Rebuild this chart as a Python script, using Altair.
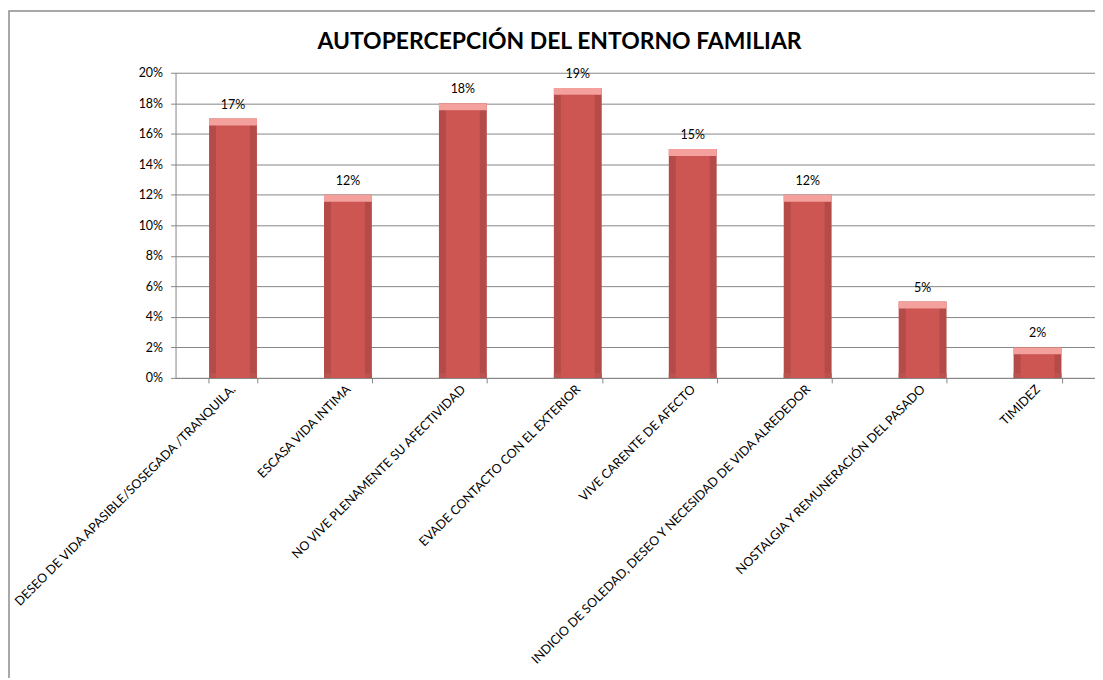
import altair as alt
import pandas as pd

categories = [
    "DESEO DE VIDA APASIBLE/SOSEGADA /TRANQUILA.",
    "ESCASA VIDA INTIMA",
    "NO VIVE PLENAMENTE SU AFECTIVIDAD",
    "EVADE CONTACTO CON EL EXTERIOR",
    "VIVE CARENTE DE AFECTO",
    "INDICIO DE SOLEDAD, DESEO Y NECESIDAD DE VIDA ALREDEDOR",
    "NOSTALGIA Y REMUNERACIÓN DEL PASADO",
    "TIMIDEZ",
]
values = [0.17, 0.12, 0.18, 0.19, 0.15, 0.12, 0.05, 0.02]
y_ticks = [0.0, 0.02, 0.04, 0.06, 0.08, 0.10, 0.12, 0.14, 0.16, 0.18, 0.20]
title_text = ["AUTOPERCEPCIÓN DEL ENTORNO FAMILIAR"]

df = pd.DataFrame({"cat": categories, "val": values})

FONT = "Lato"
W, H = 922, 306

x = alt.X("cat:N", sort=categories, title=None,
          scale=alt.Scale(paddingInner=0.58, paddingOuter=0.29),
          axis=alt.Axis(labelAngle=-45, labelAlign="right", labelBaseline="middle",
                        labelFont=FONT, labelFontSize=12.6, labelColor="#000000",
                        labelPadding=4, labelLimit=500, labelOverlap=False,
                        domainColor="#868686", tickColor="#868686", tickSize=5,
                        tickBand="extent", grid=False))
yaxis = alt.Axis(format=".0%", values=y_ticks,
                 labelFont=FONT, labelFontSize=12.5, labelColor="#000000",
                 labelOverlap=False, labelPadding=8,
                 domainColor="#868686", tickColor="#868686",
                 tickSize=5, gridColor="#868686", gridWidth=1)
yscale = alt.Scale(domain=[0, 0.2], nice=False)
y = alt.Y("val:Q", title=None, scale=yscale, axis=yaxis)
ytop = alt.Y("top:Q", title=None, scale=yscale, axis=yaxis)

base = alt.Chart(df).transform_calculate(top="datum.val - 0.0045")

outer = base.mark_bar(color="#B44B48", size=48).encode(x=x, y=y)
inner = base.mark_bar(color="#CD5653", size=34).encode(
    x=x, y=ytop, y2=alt.value(H - 5))
bottom = base.mark_bar(color="#B85350", size=48).encode(
    x=x, y=alt.value(H - 5), y2=alt.value(H))
cap = base.mark_bar(color="#F4A19D", size=48).encode(x=x, y=ytop, y2="val:Q")
labels = base.mark_text(dy=-14, font=FONT, fontSize=12.5, color="#000000").encode(
    x=x, y=y, text=alt.Text("val:Q", format=".0%"))

title = alt.Chart(pd.DataFrame({"t": title_text})).mark_text(
    font=FONT, fontSize=23, fontWeight="bold", color="#000000",
    align="center", baseline="alphabetic", clip=False).encode(
    x=alt.value(385), y=alt.value(-24), text="t:N")

frame = alt.Chart(pd.DataFrame({"t": title_text})).mark_rect(
    fill=None, stroke="#8C8C8C", strokeWidth=1.5, clip=False).encode(
    x=alt.value(-167), x2=alt.value(W + 60), y=alt.value(-62), y2=alt.value(H + 340))

chart = alt.layer(frame, outer, bottom, inner, cap, labels, title).properties(
    width=W, height=H,
    autosize=alt.AutoSizeParams(type="none"),
    padding={"left": 168, "top": 64, "right": 0, "bottom": 300},
).configure_view(stroke=None)

chart.save("out.html", embed_options={"renderer": "svg", "actions": False})
